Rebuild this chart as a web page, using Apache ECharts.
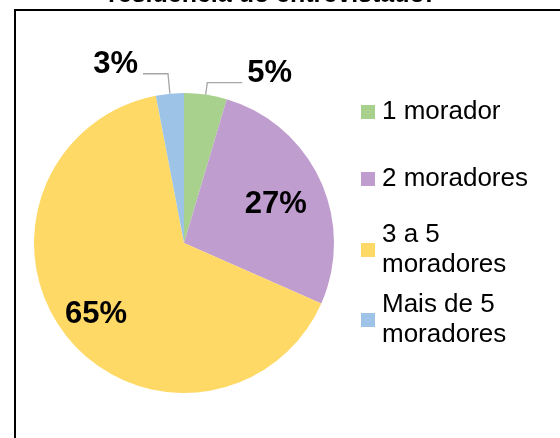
<!DOCTYPE html>
<html>
<head>
<meta charset="utf-8">
<script src="https://cdn.jsdelivr.net/npm/echarts@6/dist/echarts.min.js"></script>
<style>
html,body{margin:0;padding:0;background:#fff;}
#chart{width:560px;height:438px;}
</style>
</head>
<body>
<div id="chart"></div>
<script>
const titleText = 'residência do entrevistado:';
const categories = ['1 morador', '2 moradores', '3 a 5 moradores', 'Mais de 5 moradores'];
const legendLabels = ['1 morador', '2 moradores', '3 a 5\nmoradores', 'Mais de 5\nmoradores'];
const values = [4.6, 27.0, 65.4, 3.0];
const colors = ['#A9D18E', '#BF9DCF', '#FFD966', '#9DC3E6'];

const FONT = "'Liberation Sans', Arial, sans-serif";

// per-slice label settings (style only)
const labelCfg = [
  { position: 'outside', offset: [0, -9], line: { show: true, length: 12, length2: 35 } },
  { position: 'inside', offset: [21, -6], line: { show: false } },
  { position: 'inside', offset: [-27, 23], line: { show: false } },
  { position: 'outside', offset: [0, -9], line: { show: true, length: 20, length2: 25 } }
];
const legendTops = [97, 164, 205, 275];

const chart = echarts.init(document.getElementById('chart'), null, { renderer: 'canvas' });

const data = categories.map((c, i) => {
  const cfg = labelCfg[i];
  return {
    name: c,
    value: values[i],
    itemStyle: { color: colors[i] },
    label: { position: cfg.position, offset: cfg.offset },
    labelLine: Object.assign({ lineStyle: { color: '#A6A6A6', width: 1.3 }, smooth: false }, cfg.line)
  };
});

const legends = categories.map((c, i) => {
  const multi = legendLabels[i].indexOf('\n') >= 0;
  return {
    data: [c],
    orient: 'vertical',
    left: 361,
    top: legendTops[i],
    padding: 0,
    itemWidth: 14,
    itemHeight: 14,
    icon: 'rect',
    selectedMode: false,
    formatter: () => legendLabels[i],
    textStyle: {
      fontFamily: FONT,
      fontSize: 26,
      lineHeight: 30,
      color: '#000',
      padding: multi ? [30, 0, 0, 2] : [0, 0, 0, 2]
    }
  };
});

chart.setOption({
  animation: false,
  backgroundColor: '#fff',
  title: {
    text: titleText,
    left: 108,
    top: -17,
    padding: 0,
    textStyle: { fontFamily: FONT, fontSize: 25, fontWeight: 'bold', color: '#000' }
  },
  legend: legends,
  graphic: [{
    type: 'rect',
    x: 0, y: 0,
    shape: { x: 15, y: 10, width: 700, height: 600 },
    style: { fill: 'none', stroke: '#000', lineWidth: 2 },
    silent: true
  }],
  series: [{
    type: 'pie',
    center: [184, 243],
    radius: 150,
    startAngle: 90,
    clockwise: true,
    avoidLabelOverlap: false,
    minShowLabelAngle: 0,
    emphasis: { disabled: true },
    itemStyle: { borderWidth: 0 },
    label: {
      show: true,
      fontFamily: FONT,
      fontSize: 31,
      fontWeight: 'bold',
      color: '#000',
      distanceToLabelLine: 5,
      formatter: p => Math.round(p.percent) + '%'
    },
    data: data
  }]
});
</script>
</body>
</html>
